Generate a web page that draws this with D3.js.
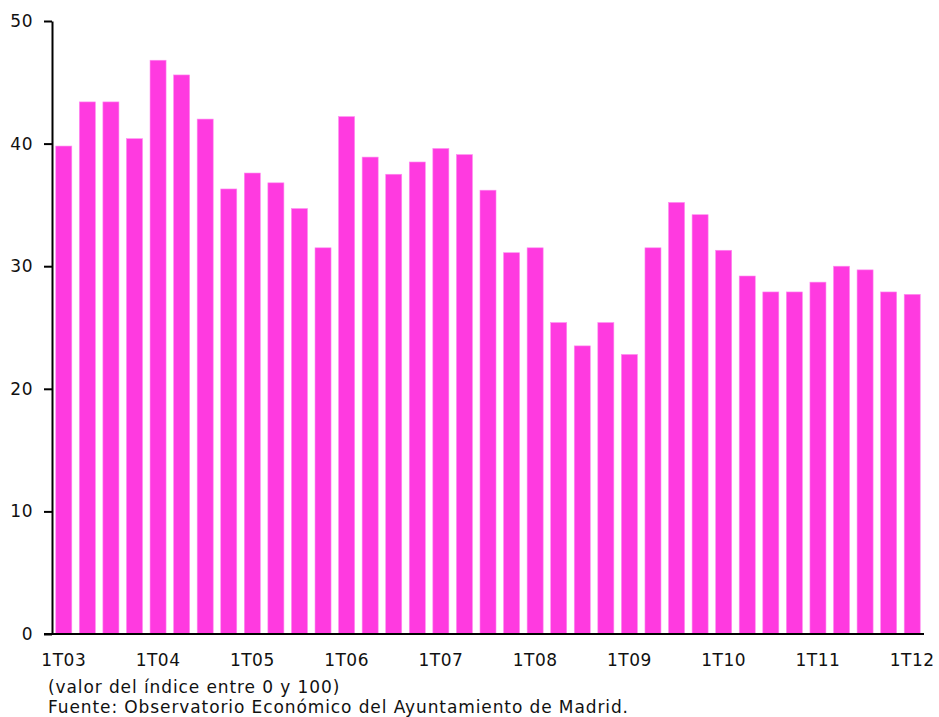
<!DOCTYPE html>
<html><head><meta charset="utf-8">
<script src="https://cdn.jsdelivr.net/npm/d3@7"></script>
<style>body{margin:0;background:#fff}svg{display:block}text{font-family:"DejaVu Sans",Verdana,sans-serif}</style>
</head><body>
<svg id="c" width="939" height="717"></svg>
<script>
const labels = ["1T03","2T03","3T03","4T03","1T04","2T04","3T04","4T04","1T05","2T05","3T05","4T05","1T06","2T06","3T06","4T06","1T07","2T07","3T07","4T07","1T08","2T08","3T08","4T08","1T09","2T09","3T09","4T09","1T10","2T10","3T10","4T10","1T11","2T11","3T11","4T11","1T12"];
const values = [39.8,43.4,43.4,40.4,46.8,45.6,42.0,36.3,37.6,36.8,34.7,31.5,42.2,38.9,37.5,38.5,39.6,39.1,36.2,31.1,31.5,25.4,23.5,25.4,22.8,31.5,35.2,34.2,31.3,29.2,27.9,27.9,28.7,30.0,29.7,27.9,27.7];
const shownTicks = ["1T03","1T04","1T05","1T06","1T07","1T08","1T09","1T10","1T11","1T12"];
const yTicks = [0,10,20,30,40,50];
const notes = ["(valor del índice entre 0 y 100)","Fuente: Observatorio Económico del Ayuntamiento de Madrid."];

const svg = d3.select("#c");
const mLeft = 52, mRight = 924, mTop = 21, mBottom = 634;
const x = d3.scaleBand().domain(labels).range([mLeft, mRight]).paddingInner(0.32).paddingOuter(0.16);
const y = d3.scaleLinear().domain([0,50]).range([mBottom, mTop]);

svg.append("g").selectAll("rect").data(values).join("rect")
  .attr("x",(d,i)=>x(labels[i])).attr("width",x.bandwidth())
  .attr("y",d=>y(d)).attr("height",d=>y(0)-y(d))
  .attr("fill","#ff3ae0").attr("stroke","#ff8cf0").attr("stroke-width",0.6);

const ya = svg.append("g").attr("transform",`translate(${mLeft},0)`)
  .call(d3.axisLeft(y).tickValues(yTicks).tickSize(8).tickPadding(11).tickSizeOuter(0));
ya.select(".domain").attr("stroke","#000").attr("stroke-width",2);
ya.selectAll(".tick line").attr("stroke","#000").attr("stroke-width",2);
ya.selectAll("text").attr("font-size",17).attr("fill","#111").attr("font-family","DejaVu Sans").attr("letter-spacing","0.5px");

const xa = svg.append("g").attr("transform",`translate(0,${mBottom})`)
  .call(d3.axisBottom(x).tickValues(shownTicks).tickSize(0).tickPadding(20).tickSizeOuter(0));
xa.select(".domain").attr("d",`M${mLeft-8},0H${mRight}`).attr("stroke","#000").attr("stroke-width",2);
xa.selectAll("text").attr("font-size",17).attr("fill","#111").attr("font-family","DejaVu Sans").attr("letter-spacing","0.5px");

svg.selectAll("text.note").data(notes).join("text").attr("class","note")
  .attr("x",48).attr("y",(d,i)=>693+i*20).attr("font-size",17).attr("letter-spacing","0.9px").attr("fill","#111").text(d=>d);
</script>
</body></html>
